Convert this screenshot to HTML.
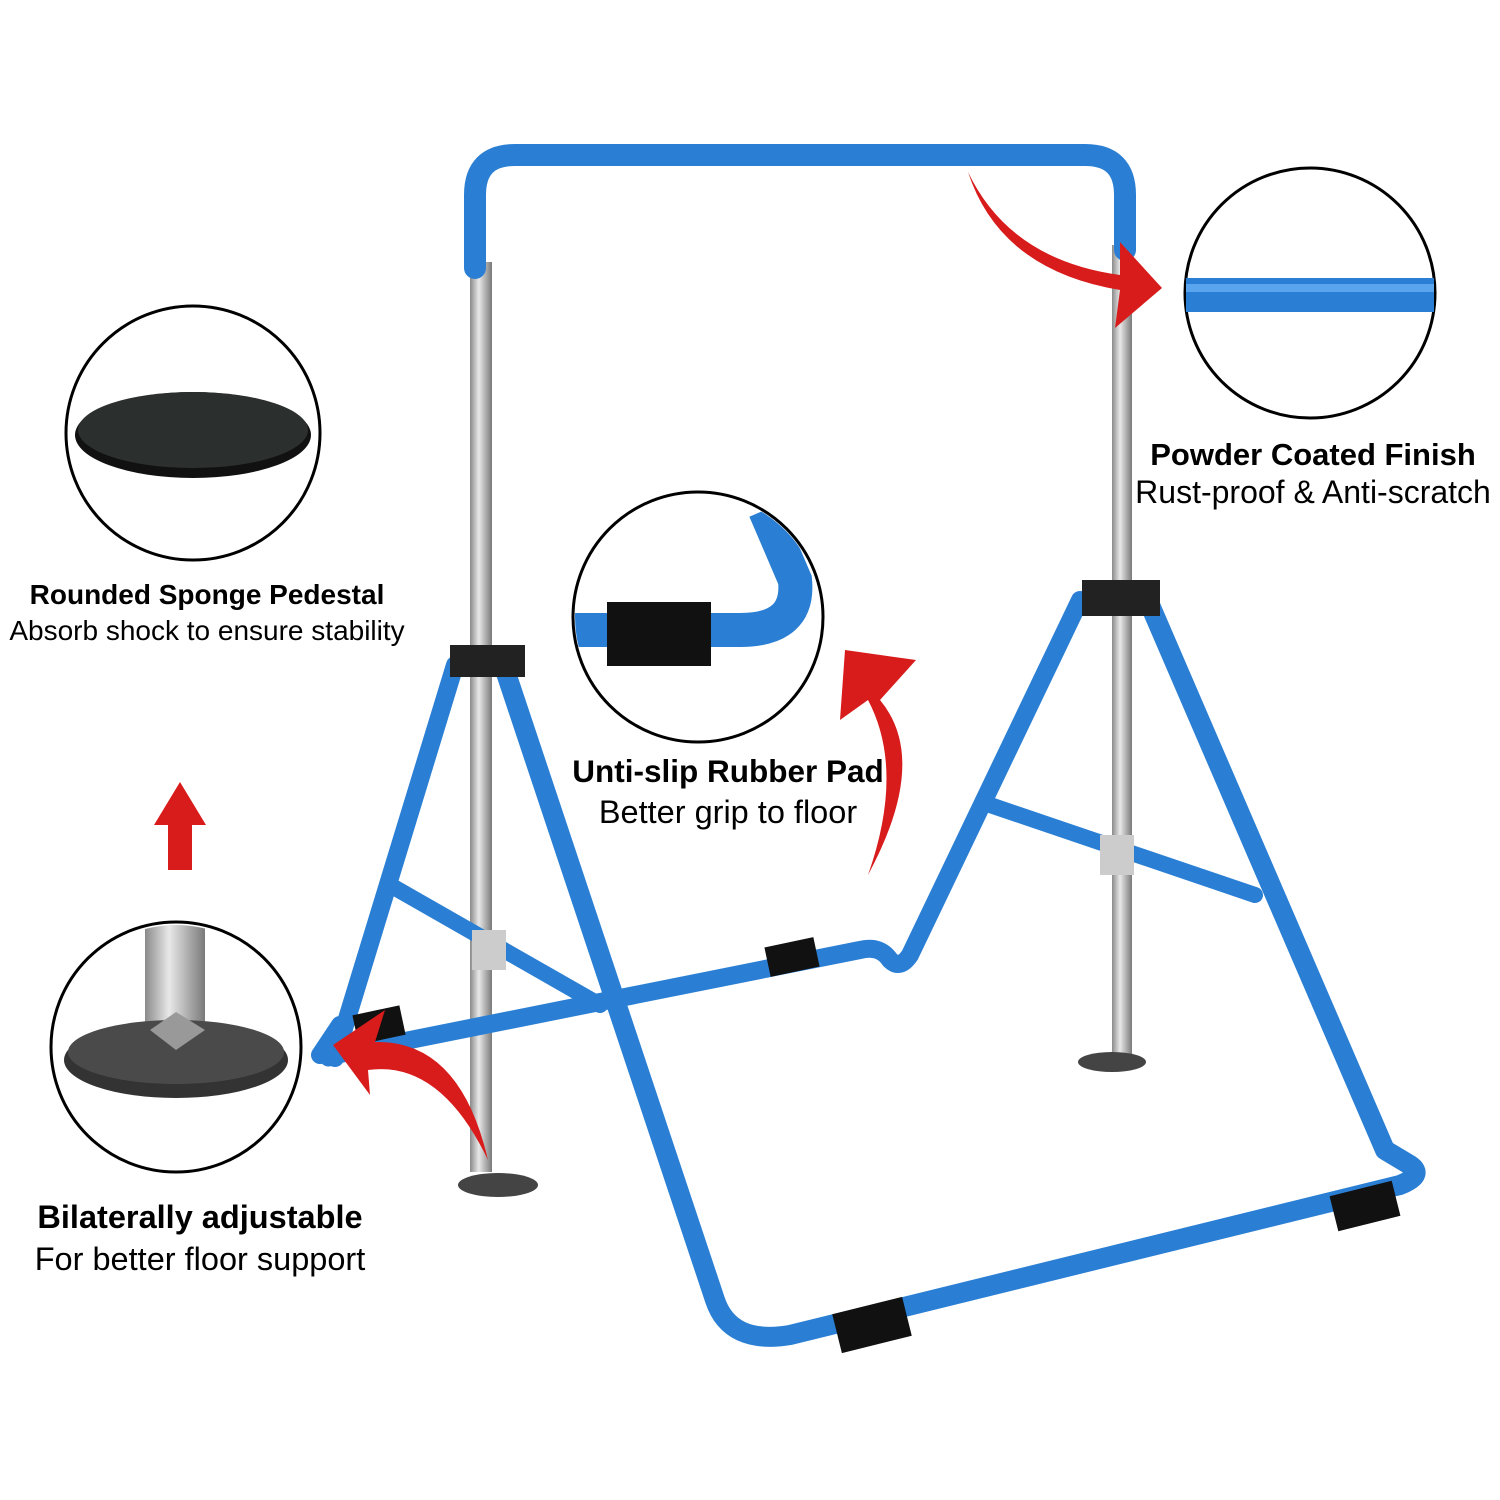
<!DOCTYPE html>
<html><head><meta charset="utf-8"><style>
html,body{margin:0;padding:0;background:#fff;}
svg{display:block;}
text{font-family:"Liberation Sans",sans-serif;fill:#000;}
</style></head><body>
<svg width="1500" height="1500" viewBox="0 0 1500 1500" xmlns="http://www.w3.org/2000/svg">
<defs>
<linearGradient id="sil" x1="0" x2="1" y1="0" y2="0">
<stop offset="0" stop-color="#8a8a8a"/><stop offset="0.4" stop-color="#e8e8e8"/><stop offset="1" stop-color="#7a7a7a"/>
</linearGradient>
<clipPath id="c2"><circle cx="698" cy="617" r="123"/></clipPath>
<clipPath id="c4"><circle cx="176" cy="1047" r="122"/></clipPath>
</defs>
<g fill="none" stroke-linecap="round" stroke-linejoin="round">
<rect x="470" y="262" width="22" height="910" fill="url(#sil)" stroke="none"/>
<rect x="1112" y="245" width="20" height="810" fill="url(#sil)" stroke="none"/>
<path d="M475 268 L475 195 Q475 155 515 155 L1085 155 Q1125 155 1125 195 L1125 250" stroke="#2a7fd4" stroke-width="22"/>
<path d="M320 1055 L340 1025 L330 1055 Q325 1060 335 1055 L860 950 Q880 945 890 960 Q900 970 910 955 L1080 600" stroke="#2a7fd4" stroke-width="18"/>
<path d="M335 1058 L455 665" stroke="#2a7fd4" stroke-width="18"/>
<path d="M505 670 L715 1300 Q730 1345 790 1335 L1400 1185 Q1425 1175 1410 1165 L1385 1150 L1150 605" stroke="#2a7fd4" stroke-width="20"/>
<path d="M390 885 L600 1005" stroke="#2a7fd4" stroke-width="16"/>
<path d="M990 805 L1255 895" stroke="#2a7fd4" stroke-width="16"/>
</g>
<rect x="450" y="645" width="75" height="32" fill="#222"/>
<rect x="1082" y="580" width="78" height="36" fill="#222"/>
<rect x="472" y="930" width="34" height="40" fill="#ccc"/>
<rect x="1100" y="835" width="34" height="40" fill="#ccc"/>
<rect x="355" y="1010" width="48" height="30" fill="#111" transform="rotate(-12 379 1025)"/>
<rect x="767" y="942" width="50" height="30" fill="#111" transform="rotate(-12 792 957)"/>
<rect x="836" y="1305" width="72" height="40" fill="#111" transform="rotate(-14 872 1325)"/>
<rect x="1333" y="1188" width="64" height="36" fill="#111" transform="rotate(-14 1365 1206)"/>
<ellipse cx="498" cy="1185" rx="40" ry="12" fill="#444"/>
<ellipse cx="1112" cy="1062" rx="34" ry="10" fill="#444"/>
<circle cx="193" cy="433" r="127" fill="#fff" stroke="#000" stroke-width="3"/>
<ellipse cx="193" cy="435" rx="118" ry="43" fill="#111"/>
<ellipse cx="193" cy="430" rx="115" ry="38" fill="#2b2f2d"/>
<circle cx="1310" cy="293" r="125" fill="#fff" stroke="#000" stroke-width="3"/>
<rect x="1186" y="278" width="248" height="34" fill="#2a7fd4"/>
<rect x="1186" y="284" width="248" height="8" fill="#5aa5ee"/>
<circle cx="698" cy="617" r="125" fill="#fff" stroke="#000" stroke-width="3"/>
<g clip-path="url(#c2)">
<path d="M560 630 L740 630 Q800 630 795 580 L765 510" fill="none" stroke="#2a7fd4" stroke-width="34"/>
<rect x="607" y="602" width="104" height="64" fill="#111"/>
</g>
<circle cx="176" cy="1047" r="125" fill="#fff" stroke="#000" stroke-width="3"/>
<g clip-path="url(#c4)">
<rect x="145" y="920" width="60" height="110" fill="url(#sil)"/>
<ellipse cx="176" cy="1060" rx="112" ry="38" fill="#333"/>
<ellipse cx="176" cy="1052" rx="108" ry="32" fill="#4a4a4a"/>
<path d="M150 1030 L176 1012 L205 1030 L176 1050Z" fill="#999"/>
</g>
<g fill="#d81b1b">
<polygon points="168,870 192,870 192,825 206,825 180,782 154,825 168,825"/>
<path d="M968 172 Q1000 270 1120 290 L1115 328 L1162 288 L1120 242 L1120 275 Q1010 260 968 172Z"/>
<path d="M868 875 Q930 760 880 700 L916 660 L845 650 L840 720 L868 700 Q905 770 868 875Z"/>
<path d="M488 1160 Q440 1060 368 1070 L370 1095 L333 1045 L385 1010 L375 1042 Q460 1040 488 1160Z"/>
</g>
<text x="207" y="604" font-size="28" font-weight="bold" text-anchor="middle">Rounded Sponge Pedestal</text>
<text x="207" y="640" font-size="28" text-anchor="middle">Absorb shock to ensure stability</text>
<text x="1313" y="465" font-size="31" font-weight="bold" text-anchor="middle">Powder Coated Finish</text>
<text x="1313" y="503" font-size="32" text-anchor="middle">Rust-proof &amp; Anti-scratch</text>
<text x="728" y="782" font-size="31.5" font-weight="bold" text-anchor="middle">Unti-slip Rubber Pad</text>
<text x="728" y="823" font-size="32.5" text-anchor="middle">Better grip to floor</text>
<text x="200" y="1228" font-size="32.5" font-weight="bold" text-anchor="middle">Bilaterally adjustable</text>
<text x="200" y="1270" font-size="32.5" text-anchor="middle">For better floor support</text>
</svg>
</body></html>
